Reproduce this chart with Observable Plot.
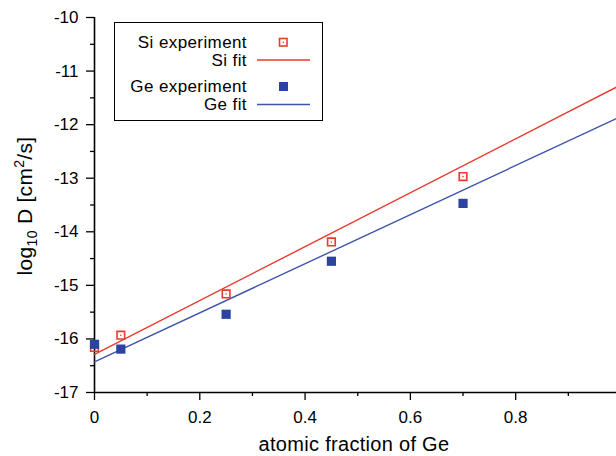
<!DOCTYPE html>
<html>
<head>
<meta charset="utf-8">
<script src="https://cdn.jsdelivr.net/npm/d3@7"></script>
<script src="https://cdn.jsdelivr.net/npm/@observablehq/plot@0.6"></script>
<style>
  body { margin: 0; background: #fff; }
  #wrap { position: relative; width: 616px; height: 456px; font-family: "Liberation Sans", Arial, sans-serif; }
  #legend { position: absolute; left: 114px; top: 22px; width: 207px; height: 97px; border: 1.5px solid #000; background: #fff; }
  .lt { position: absolute; right: 75px; font-size: 17px; letter-spacing: 0.4px; line-height: 15px; height: 15px; color: #000; white-space: nowrap; }
</style>
</head>
<body>
<div id="wrap"></div>
<script>
// ---- data ----
const fraction = [0, 0.05, 0.25, 0.45, 0.7];
const siExp = [-16.16, -15.93, -15.16, -14.19, -12.97];
const geExp = [-16.10, -16.19, -15.54, -14.55, -13.47];
const fitX = [0, 0.9915];
const siFit = [-16.29, -11.30];
const geFit = [-16.43, -11.885];
const xTicks = [0, 0.2, 0.4, 0.6, 0.8];
const xMinor = [0.1, 0.3, 0.5, 0.7, 0.9];
const yTicks = [-17, -16, -15, -14, -13, -12, -11, -10];
const yMinor = [-16.5, -15.5, -14.5, -13.5, -12.5, -11.5, -10.5];
const RED = "#e63b2e", BLUE = "#2c44a0", BLUE_LINE = "#3e54ab";

const siPts = fraction.map((x, i) => ({x, y: siExp[i]}));
const gePts = fraction.map((x, i) => ({x, y: geExp[i]}));
const siLine = fitX.map((x, i) => ({x, y: siFit[i]}));
const geLine = fitX.map((x, i) => ({x, y: geFit[i]}));

const chart = Plot.plot({
  width: 616, height: 456,
  marginLeft: 94, marginRight: 0, marginTop: 17, marginBottom: 64,
  style: {fontFamily: "'Liberation Sans', Arial, sans-serif", fontSize: "17px", color: "#000", background: "#fff"},
  x: {domain: [0, 0.9915]},
  y: {domain: [-17, -10]},
  marks: [
    Plot.axisX({ticks: xTicks, tickSize: 8, tickPadding: 10, tickFormat: d => d === 0 ? "0" : d3.format(".1f")(d), label: null, strokeWidth: 1.3, fontSize: 17}),
    Plot.axisX({ticks: xMinor, tickSize: 4, tickFormat: () => "", label: null, strokeWidth: 1.3}),
    Plot.axisY({ticks: yTicks, tickSize: 8, tickPadding: 8, tickFormat: d => "-" + Math.abs(d), label: null, strokeWidth: 1.3, fontSize: 17}),
    Plot.axisY({ticks: yMinor, tickSize: 4, tickFormat: () => "", label: null, strokeWidth: 1.3}),
    Plot.ruleY([-17], {stroke: "#000", strokeWidth: 1.6}),
    Plot.ruleX([0], {stroke: "#000", strokeWidth: 1.6}),
    Plot.line(siLine, {x: "x", y: "y", stroke: RED, strokeWidth: 1.4}),
    Plot.line(geLine, {x: "x", y: "y", stroke: BLUE_LINE, strokeWidth: 1.4}),
    Plot.dot(siPts, {x: "x", y: "y", symbol: "square", r: 4.3, stroke: RED, strokeWidth: 1.6, fill: "none"}),
    Plot.dot(siPts, {x: "x", y: "y", r: 0.8, fill: RED}),
    Plot.dot(gePts, {x: "x", y: "y", symbol: "square", r: 5.2, fill: BLUE, stroke: "none"})
  ]
});

const wrap = document.getElementById("wrap");
wrap.appendChild(chart);

const svg = d3.select(chart);
// x title
svg.append("text")
  .attr("x", 354).attr("y", 451)
  .attr("text-anchor", "middle")
  .attr("font-size", 20).attr("letter-spacing", 0.3).attr("fill", "#000")
  .text("atomic fraction of Ge");
// y title with sub/superscript
const yt = svg.append("text")
  .attr("transform", "translate(32,206) rotate(-90)")
  .attr("text-anchor", "middle")
  .attr("font-size", 21).attr("letter-spacing", 0.3).attr("fill", "#000");
yt.append("tspan").text("log");
yt.append("tspan").attr("font-size", 14).attr("dy", 5).text("10");
yt.append("tspan").attr("dy", -5).text(" D [cm");
yt.append("tspan").attr("font-size", 14).attr("dy", -8).text("2");
yt.append("tspan").attr("dy", 8).text("/s]");

// legend
const lg = document.createElement("div");
lg.id = "legend";
const entries = [
  {label: "Si experiment", cy: 19.5},
  {label: "Si fit", cy: 37.5},
  {label: "Ge experiment", cy: 63.5},
  {label: "Ge fit", cy: 81.5}
];
entries.forEach(e => {
  const t = document.createElement("div");
  t.className = "lt";
  t.style.top = (e.cy - 7.5) + "px";
  t.textContent = e.label;
  lg.appendChild(t);
});
const ls = d3.create("svg").attr("width", 207).attr("height", 97)
  .style("position", "absolute").style("left", "0px").style("top", "0px");
ls.append("rect").attr("x", 164.5).attr("y", 15.5).attr("width", 7.5).attr("height", 7.5)
  .attr("fill", "none").attr("stroke", RED).attr("stroke-width", 1.6);
ls.append("circle").attr("cx", 168.3).attr("cy", 19.3).attr("r", 0.8).attr("fill", RED);
ls.append("line").attr("x1", 142).attr("x2", 195).attr("y1", 37).attr("y2", 37).attr("stroke", RED).attr("stroke-width", 1.4);
ls.append("rect").attr("x", 164).attr("y", 59).attr("width", 9).attr("height", 9).attr("fill", BLUE);
ls.append("line").attr("x1", 142).attr("x2", 195).attr("y1", 81.5).attr("y2", 81.5).attr("stroke", BLUE_LINE).attr("stroke-width", 1.6);
lg.appendChild(ls.node());
wrap.appendChild(lg);
</script>
</body>
</html>
